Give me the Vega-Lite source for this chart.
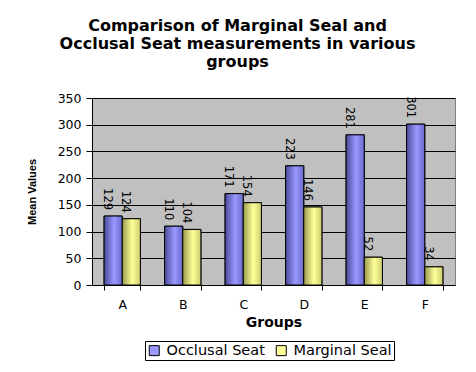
{
  "$schema": "https://vega.github.io/schema/vega-lite/v6.json",
  "width": 363,
  "height": 187,
  "autosize": {"type": "none"},
  "padding": {"left": 92, "top": 98, "right": 21, "bottom": 87},
  "background": "white",
  "title": {
    "text": ["Comparison of Marginal Seal and", "Occlusal Seat measurements in various", "groups"],
    "font": "DejaVu Sans",
    "fontSize": 16,
    "fontWeight": "bold",
    "color": "black",
    "anchor": "middle",
    "dx": -36,
    "offset": 22,
    "lineHeight": 18
  },
  "data": {
    "values": [
      {"group": "A", "series": "Occlusal Seat", "value": 129},
      {"group": "A", "series": "Marginal Seal", "value": 124},
      {"group": "B", "series": "Occlusal Seat", "value": 110},
      {"group": "B", "series": "Marginal Seal", "value": 104},
      {"group": "C", "series": "Occlusal Seat", "value": 171},
      {"group": "C", "series": "Marginal Seal", "value": 154},
      {"group": "D", "series": "Occlusal Seat", "value": 223},
      {"group": "D", "series": "Marginal Seal", "value": 146},
      {"group": "E", "series": "Occlusal Seat", "value": 281},
      {"group": "E", "series": "Marginal Seal", "value": 52},
      {"group": "F", "series": "Occlusal Seat", "value": 301},
      {"group": "F", "series": "Marginal Seal", "value": 34}
    ]
  },
  "encoding": {
    "x": {
      "field": "group",
      "type": "nominal",
      "scale": {"paddingInner": 0.4, "paddingOuter": 0.2},
      "axis": {
        "title": "Groups",
        "titleFont": "DejaVu Sans",
        "titleFontSize": 14,
        "titleFontWeight": "bold",
        "titleColor": "black",
        "titlePadding": 5,
        "labelAngle": 0,
        "labelFont": "DejaVu Sans",
        "labelFontSize": 12.5,
        "labelColor": "black",
        "labelPadding": 8,
        "domainColor": "black",
        "tickColor": "black",
        "tickBand": "extent",
        "tickSize": 5,
        "grid": false
      }
    },
    "xOffset": {"field": "series", "type": "nominal", "sort": ["Occlusal Seat", "Marginal Seal"]},
    "y": {
      "field": "value",
      "type": "quantitative",
      "scale": {"domain": [0, 350]},
      "axis": {
        "title": "Mean Values",
        "titleFont": "Liberation Sans",
        "titleFontSize": 11,
        "titleFontWeight": "bold",
        "titleColor": "black",
        "titlePadding": 20,
        "values": [0, 50, 100, 150, 200, 250, 300, 350],
        "labelFont": "DejaVu Sans",
        "labelFontSize": 12.5,
        "labelColor": "black",
        "labelPadding": 5,
        "domainColor": "black",
        "tickColor": "black",
        "tickSize": 6,
        "grid": true,
        "gridColor": "black",
        "gridWidth": 1
      }
    }
  },
  "layer": [
    {
      "mark": {"type": "bar", "stroke": "black", "strokeWidth": 1},
      "encoding": {
        "color": {
          "field": "series",
          "type": "nominal",
          "sort": ["Occlusal Seat", "Marginal Seal"],
          "scale": {"domain": ["Occlusal Seat", "Marginal Seal"], "range": ["#9999FF", "#FFFF99"]},
          "legend": {
            "title": null,
            "orient": "none",
            "direction": "horizontal",
            "legendX": 53,
            "legendY": 243,
            "symbolType": "square",
            "symbolSize": 100,
            "symbolStrokeColor": "black",
            "symbolStrokeWidth": 1,
            "labelFont": "DejaVu Sans",
            "labelFontSize": 14.5,
            "labelColor": "black",
            "columnPadding": 9,
            "labelOffset": 5,
            "strokeColor": "black",
            "padding": 2,
            "fillColor": "white"
          }
        }
      }
    },
    {
      "mark": {"type": "bar", "stroke": "black", "strokeWidth": 1},
      "encoding": {
        "fill": {
          "condition": {
            "test": "datum.series === 'Occlusal Seat'",
            "value": {
              "gradient": "linear", "x1": 0, "x2": 1, "y1": 0, "y2": 0,
              "stops": [
                {"offset": 0, "color": "#4a4a99"},
                {"offset": 0.55, "color": "#9999FF"},
                {"offset": 1, "color": "#6a6acc"}
              ]
            }
          },
          "value": {
            "gradient": "linear", "x1": 0, "x2": 1, "y1": 0, "y2": 0,
            "stops": [
              {"offset": 0, "color": "#99994d"},
              {"offset": 0.55, "color": "#FFFF99"},
              {"offset": 1, "color": "#cccc70"}
            ]
          }
        }
      }
    },
    {
      "mark": {
        "type": "text",
        "angle": 90,
        "align": "right",
        "baseline": "top",
        "dx": -6,
        "font": "DejaVu Sans",
        "fontSize": 11.5,
        "color": "black"
      },
      "encoding": {
        "text": {"field": "value", "type": "quantitative"}
      }
    }
  ],
  "config": {
    "view": {"fill": "#C0C0C0", "stroke": "#808080", "strokeWidth": 1}
  }
}
